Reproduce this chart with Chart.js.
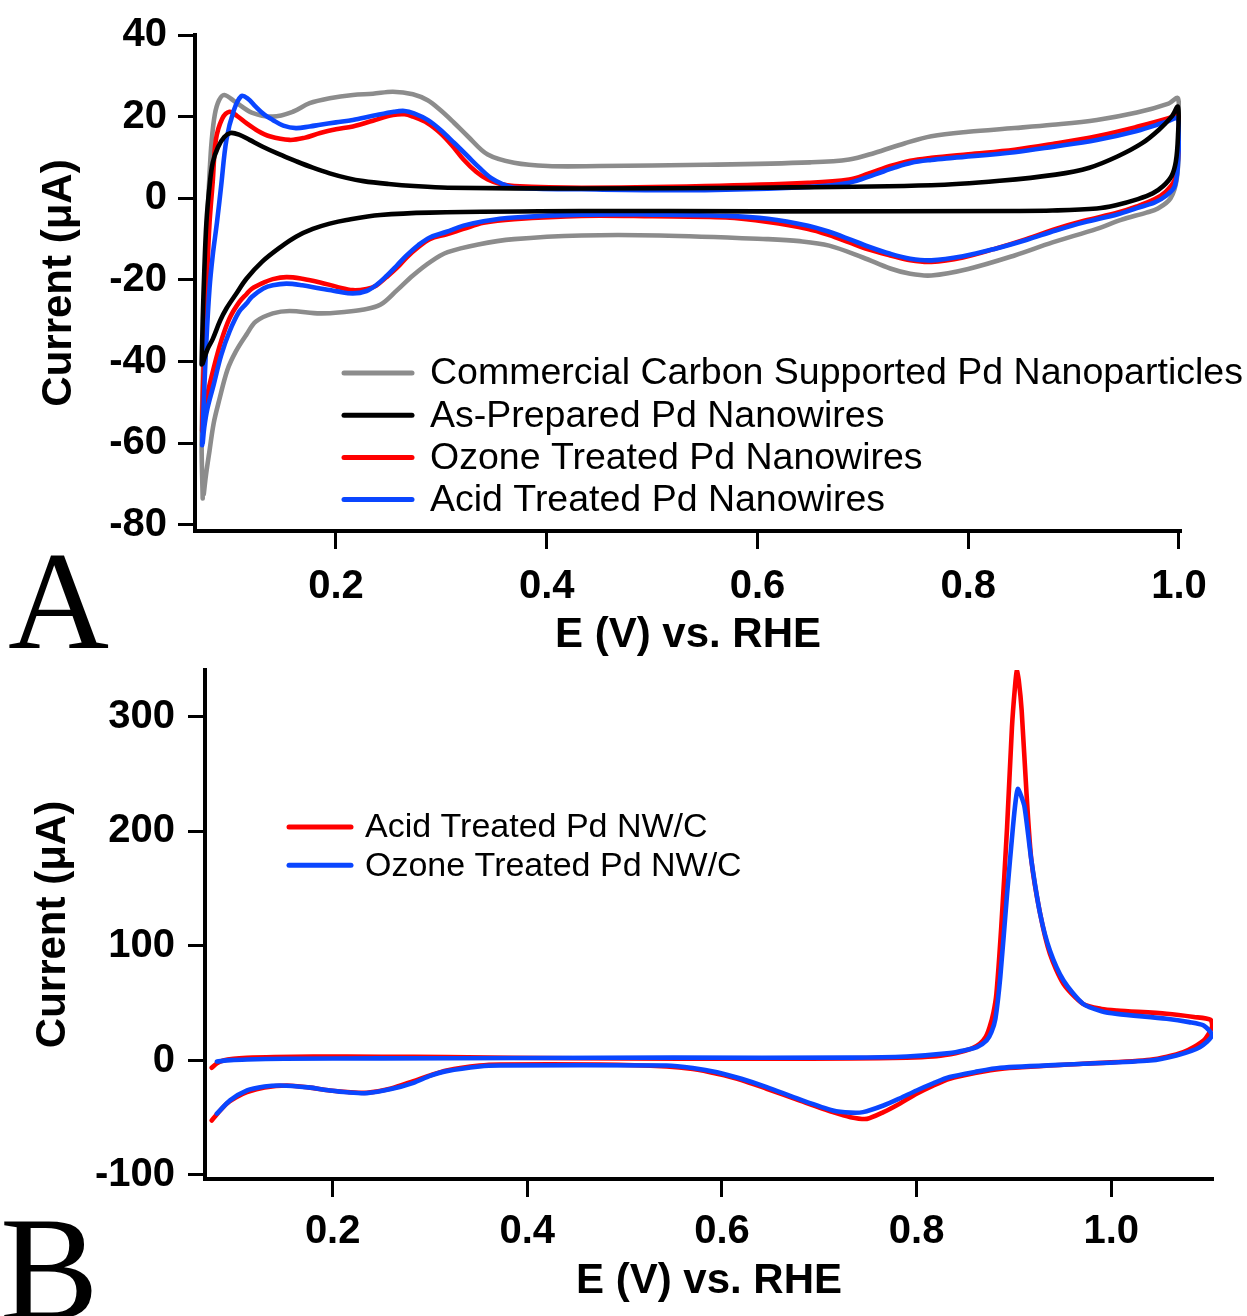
<!DOCTYPE html>
<html>
<head>
<meta charset="utf-8">
<script src="https://cdn.jsdelivr.net/npm/chart.js@4.4.1/dist/chart.umd.min.js"></script>
<style>
  html, body { margin: 0; padding: 0; background: #fff; }
  #page { position: relative; width: 1247px; height: 1316px; overflow: hidden; background: #fff; }
  canvas { position: absolute; left: 0; }
  #chartA { top: 0; }
  #chartB { top: 620px; }
  .panel { position: absolute; font-family: "Liberation Serif", "DejaVu Serif", serif; font-size: 140px; line-height: 1; color: #000; }
</style>
</head>
<body>
<div id="page">
  <canvas id="chartA" width="1247" height="665"></canvas>
  <canvas id="chartB" width="1247" height="696"></canvas>
  <div class="panel" style="left:8px; top:531px;">A</div>
  <div class="panel" style="left:0px; top:1195px; font-size:148px;">B</div>
</div>
<script>
// ---- panel A : CV curves (E in V vs RHE, I in uA) ----
const seriesA = [
  "Commercial Carbon Supported Pd Nanoparticles",
  "As-Prepared Pd Nanowires",
  "Ozone Treated Pd Nanowires",
  "Acid Treated Pd Nanowires"
];

const commercialE = [0.0735, 0.0725, 0.074, 0.076, 0.078, 0.080, 0.082, 0.085, 0.089, 0.094, 0.105, 0.120, 0.140, 0.159, 0.175, 0.194, 0.216, 0.235, 0.254, 0.273, 0.287, 0.299, 0.312, 0.325, 0.344, 0.369, 0.401, 0.450, 0.550, 0.650, 0.687, 0.711, 0.740, 0.765, 0.800, 0.844, 0.880, 0.922, 0.960, 0.990, 0.999,
  1.000, 0.998, 0.992, 0.980, 0.969, 0.945, 0.922, 0.880, 0.844, 0.800, 0.765, 0.745, 0.726, 0.700, 0.668, 0.640, 0.609, 0.507, 0.433, 0.369, 0.335, 0.306, 0.290, 0.273, 0.258, 0.242, 0.225, 0.210, 0.185, 0.156, 0.140, 0.124, 0.115, 0.105, 0.097, 0.089, 0.084, 0.080, 0.0765, 0.0745];
const commercialI = [-73.5, -60, -40, -20, -5, 6, 14, 20.5, 24, 25.3, 23.5, 21, 20.0, 21.2, 23.3, 24.5, 25.3, 25.6, 26.1, 25.5, 24, 21.6, 18.5, 15.2, 10.7, 8.7, 7.9, 7.9, 8.2, 8.8, 9.5, 11.1, 13.5, 15.2, 16.3, 17.2, 18, 19.2, 21, 23.2, 24.5,
  15, 5, 0, -2.5, -3.5, -5.3, -7.5, -10.8, -14.0, -17.3, -18.9, -18.5, -17.2, -14.5, -11.6, -10.5, -10.0, -9.1, -9.1, -10.0, -11.3, -13.2, -15.5, -18.9, -22.5, -26.1, -27.3, -27.8, -28.2, -27.6, -28.2, -30.2, -33.4, -37.5, -42, -49.6, -55, -61.8, -68, -72.5];

const asPreparedE = [0.0725, 0.0735, 0.075, 0.077, 0.080, 0.083, 0.088, 0.094, 0.100, 0.108, 0.118, 0.130, 0.146, 0.162, 0.178, 0.194, 0.210, 0.226, 0.250, 0.274, 0.306, 0.433, 0.600, 0.765, 0.830, 0.883, 0.915, 0.942, 0.965, 0.981, 0.993, 0.999,
  0.999, 0.997, 0.993, 0.985, 0.975, 0.961, 0.940, 0.922, 0.880, 0.844, 0.600, 0.433, 0.289, 0.242, 0.210, 0.194, 0.178, 0.162, 0.147, 0.130, 0.115, 0.105, 0.096, 0.090, 0.083, 0.078, 0.0735];
const asPreparedI = [-40.7, -30, -18, -6, 3, 8.7, 12.5, 15, 16.0, 15.6, 14.3, 12.7, 10.8, 9.1, 7.5, 6.1, 5.0, 4.2, 3.5, 3.0, 2.6, 2.4, 2.6, 3.2, 4.3, 5.8, 7.5, 10.3, 13.5, 16.8, 20, 22.4,
  15, 9, 5.5, 3, 1.2, -0.2, -1.7, -2.5, -3.0, -3.1, -3.2, -3.1, -3.5, -4.1, -5.3, -6.2, -7.5, -9.4, -12, -15.5, -19.7, -23.5, -27, -30, -34.5, -37, -40.5];

const ozoneE = [0.073, 0.074, 0.076, 0.078, 0.080, 0.083, 0.086, 0.092, 0.099, 0.106, 0.115, 0.126, 0.137, 0.156, 0.170, 0.185, 0.200, 0.216, 0.235, 0.254, 0.265, 0.273, 0.287, 0.299, 0.310, 0.321, 0.333, 0.344, 0.356, 0.369, 0.433, 0.550, 0.648, 0.687, 0.705, 0.726, 0.745, 0.765, 0.800, 0.844, 0.880, 0.922, 0.960, 0.990, 0.999,
  0.9995, 0.996, 0.987, 0.977, 0.960, 0.942, 0.910, 0.883, 0.855, 0.825, 0.795, 0.765, 0.745, 0.726, 0.705, 0.687, 0.668, 0.648, 0.610, 0.570, 0.500, 0.433, 0.369, 0.340, 0.321, 0.305, 0.289, 0.278, 0.267, 0.258, 0.248, 0.238, 0.229, 0.216, 0.201, 0.185, 0.168, 0.153, 0.140, 0.131, 0.120, 0.115, 0.108, 0.099, 0.091, 0.084, 0.078, 0.075, 0.0735];
const ozoneI = [-57, -45, -30, -17, -6, 4, 14.3, 19.5, 21.2, 20.2, 18.4, 16.5, 15.2, 14.3, 14.8, 16.0, 16.9, 17.6, 19, 20.4, 20.6, 20.0, 18.4, 16.0, 13, 9.5, 6.5, 4.6, 3.5, 3.0, 2.6, 3.0, 3.8, 4.6, 6, 7.9, 9.2, 9.9, 10.8, 11.9, 13.3, 15.2, 17.5, 19.6, 20.5,
  12, 4.6, 1.5, -0.2, -2.0, -3.5, -5.5, -7.5, -10, -12.4, -14.5, -15.6, -15.2, -14.0, -12.5, -10.8, -9, -7.5, -5.8, -4.7, -4.4, -4.3, -5.1, -6, -7.5, -8.8, -10, -12, -14.5, -17, -19.3, -21.4, -22.2, -22.5, -21.7, -20.6, -19.7, -19.3, -19.8, -20.7, -22.2, -23.5, -25.5, -29.4, -35, -41.5, -48, -52.8, -56.5];

const acidE = [0.073, 0.0745, 0.077, 0.080, 0.083, 0.087, 0.091, 0.096, 0.103, 0.110, 0.116, 0.124, 0.132, 0.140, 0.150, 0.162, 0.175, 0.185, 0.200, 0.216, 0.235, 0.255, 0.265, 0.274, 0.287, 0.299, 0.312, 0.325, 0.336, 0.347, 0.358, 0.369, 0.433, 0.550, 0.650, 0.687, 0.711, 0.730, 0.746, 0.765, 0.785, 0.844, 0.880, 0.922, 0.960, 0.989, 0.999,
  0.9995, 0.996, 0.987, 0.977, 0.960, 0.942, 0.910, 0.883, 0.855, 0.825, 0.795, 0.765, 0.745, 0.726, 0.705, 0.687, 0.668, 0.648, 0.610, 0.570, 0.500, 0.433, 0.369, 0.340, 0.321, 0.305, 0.289, 0.278, 0.267, 0.258, 0.248, 0.238, 0.229, 0.216, 0.201, 0.185, 0.168, 0.153, 0.140, 0.131, 0.120, 0.115, 0.108, 0.099, 0.091, 0.084, 0.078, 0.075, 0.0735];
const acidI = [-60.5, -50, -35, -22, -14, -6, 3, 14.3, 21.5, 25.0, 24.5, 22.4, 20.5, 19.2, 17.8, 17.2, 17.6, 18.0, 18.6, 19.2, 20.2, 21.2, 21.4, 20.8, 19.2, 16.8, 13.6, 10.3, 7.5, 5.0, 3.5, 2.6, 2.2, 2.0, 2.8, 3.8, 5.8, 7.5, 8.7, 9.4, 9.9, 11.3, 12.6, 14.3, 16.5, 18.8, 19.5,
  11, 3.0, 0.5, -1.0, -2.4, -3.9, -5.9, -7.9, -10.2, -12.4, -14.2, -15.2, -14.8, -13.6, -11.8, -10.0, -8.2, -6.7, -5.0, -4.3, -4.0, -4.0, -4.7, -5.6, -6.7, -8.2, -9.6, -11.5, -14, -16.4, -19, -21.3, -22.7, -23.3, -22.8, -22.1, -21.3, -20.9, -21.3, -22.1, -24.2, -25.8, -27.8, -32.6, -38.5, -45.6, -51.5, -56.1, -60];

// ---- panel B ----
const seriesB = ["Acid Treated Pd NW/C", "Ozone Treated Pd NW/C"];

const acidNwE = [0.0757, 0.081, 0.0876, 0.098, 0.1116, 0.140, 0.180, 0.250, 0.317, 0.450, 0.557, 0.650, 0.732, 0.790, 0.817, 0.835, 0.845, 0.857, 0.865, 0.871, 0.875, 0.879, 0.882, 0.887, 0.893, 0.898, 0.901, 0.903, 0.905, 0.908, 0.913, 0.918, 0.927, 0.937, 0.951, 0.971, 0.990, 1.006, 1.057, 1.085, 1.102,
  1.1035, 1.095, 1.074, 1.040, 0.971, 0.886, 0.860, 0.834, 0.817, 0.800, 0.783, 0.766, 0.749, 0.732, 0.714, 0.680, 0.646, 0.620, 0.595, 0.570, 0.543, 0.475, 0.372, 0.351, 0.317, 0.300, 0.283, 0.260, 0.235, 0.215, 0.197, 0.175, 0.153, 0.130, 0.112, 0.100, 0.091, 0.083, 0.0757];
const acidNwI = [-6.4, -2.5, 0, 1.5, 2.3, 3.0, 3.5, 3.3, 2.9, 2.0, 1.5, 1.5, 1.8, 2.5, 3.5, 5.5, 7.3, 10.5, 14.5, 20.5, 29, 42, 58.2, 116.3, 203.6, 290.9, 325, 340.4, 332, 305.5, 232.8, 174.6, 128, 93.1, 66.9, 49.5, 45, 43.6, 40.8, 38, 35.5,
  29.1, 17.5, 7.3, 0.6, -2.9, -7.3, -11, -16, -22, -29.1, -37.5, -45.1, -51, -49.5, -45.1, -35, -24.7, -17, -11.6, -7.5, -5.2, -3.5, -3.5, -4.4, -8.7, -13, -18, -24.5, -28.2, -27.5, -26.2, -23.5, -21.8, -23.5, -27.7, -32.5, -37.8, -45, -52.4];

const ozoneNwE = [0.081, 0.095, 0.112, 0.150, 0.250, 0.400, 0.550, 0.732, 0.790, 0.834, 0.850, 0.862, 0.872, 0.877, 0.881, 0.886, 0.893, 0.899, 0.902, 0.904, 0.907, 0.911, 0.918, 0.927, 0.937, 0.951, 0.971, 0.990, 1.006, 1.057, 1.080, 1.095, 1.1035,
  1.091, 1.067, 1.040, 0.971, 0.886, 0.860, 0.834, 0.817, 0.800, 0.783, 0.766, 0.745, 0.732, 0.714, 0.680, 0.646, 0.620, 0.595, 0.570, 0.543, 0.372, 0.351, 0.317, 0.300, 0.283, 0.260, 0.235, 0.215, 0.197, 0.175, 0.146, 0.130, 0.112, 0.0945, 0.081];
const ozoneNwI = [-0.9, 0.3, 0.9, 1.5, 1.8, 2.2, 2.5, 2.5, 3.5, 6.4, 9, 11.6, 17.5, 25, 36.4, 72.7, 145.5, 203.6, 228, 237.1, 232, 221.1, 174.6, 128, 96, 69.8, 49.5, 43, 40.7, 36.4, 33.5, 30.5, 21.8,
  11.6, 4.4, 0, -2.9, -6.4, -10, -14.5, -20, -26.2, -33, -39.3, -45.1, -45.5, -43.6, -34, -23.3, -16, -10.2, -6.5, -4.4, -4.4, -5.2, -9.3, -13.5, -19.5, -25, -28.5, -27.8, -26.2, -23.5, -21.8, -22.8, -26.2, -34.9, -46.5];

// tick labels
const eTicks = [0.2, 0.4, 0.6, 0.8, 1.0];
const iTicksA = [-80, -60, -40, -20, 0, 20, 40];
const iTicksB = [-100, 0, 100, 200, 300];

Chart.defaults.font.family = '"Liberation Sans", Arial, sans-serif';
Chart.defaults.color = "#000";

const toPoints = (xs, ys) => xs.map((x, i) => ({ x: x, y: ys[i] }));

// legend drawn inside the plot area
const insetLegend = {
  id: "insetLegend",
  afterDraw(chart, args, opts) {
    const ctx = chart.ctx;
    ctx.save();
    ctx.font = opts.fontSize + 'px "Liberation Sans", Arial, sans-serif';
    ctx.textBaseline = "middle";
    ctx.textAlign = "left";
    ctx.lineCap = "round";
    ctx.lineWidth = opts.lineWidth;
    chart.data.datasets.forEach((ds, i) => {
      const y = opts.y + i * opts.rowHeight;
      ctx.strokeStyle = ds.borderColor;
      ctx.beginPath();
      ctx.moveTo(opts.x, y);
      ctx.lineTo(opts.x + opts.lineLength, y);
      ctx.stroke();
      ctx.fillStyle = "#000";
      ctx.fillText(ds.label, opts.textX, y + 1);
    });
    ctx.restore();
  }
};

const axisGrid = (len) => ({
  display: true,
  drawOnChartArea: false,
  drawTicks: true,
  tickLength: len,
  tickWidth: 3,
  tickColor: "#000"
});

new Chart(document.getElementById("chartA"), {
  type: "line",
  data: {
    datasets: [
      { label: seriesA[0], data: toPoints(commercialE, commercialI), borderColor: "#8c8c8c", order: 4 },
      { label: seriesA[1], data: toPoints(asPreparedE, asPreparedI), borderColor: "#000000", order: 1 },
      { label: seriesA[2], data: toPoints(ozoneE, ozoneI), borderColor: "#ff0000", order: 3 },
      { label: seriesA[3], data: toPoints(acidE, acidI), borderColor: "#0a46ff", order: 2 }
    ]
  },
  options: {
    responsive: false,
    animation: false,
    layout: { padding: { left: 0, top: 31, right: 66, bottom: 0 } },
    elements: {
      point: { radius: 0 },
      line: { borderWidth: 4.6, tension: 0.35, borderJoinStyle: "round", borderCapStyle: "round" }
    },
    plugins: {
      legend: { display: false },
      tooltip: { enabled: false },
      insetLegend: { x: 344, y: 373, rowHeight: 42.2, lineLength: 68, lineWidth: 5, textX: 430, fontSize: 37.5 }
    },
    scales: {
      x: {
        type: "linear",
        min: 0.0662,
        max: 1.0019,
        afterBuildTicks: (s) => { s.ticks = eTicks.map(v => ({ value: v })); },
        afterFit: (s) => { s.height = 134; },
        ticks: { callback: (v) => v.toFixed(1), font: { size: 40, weight: "bold" }, padding: 14 },
        grid: axisGrid(18),
        border: { display: true, width: 4, color: "#000" },
        title: { display: true, text: "E (V) vs. RHE", font: { size: 42, weight: "bold" }, padding: { top: 0, bottom: 4 } }
      },
      y: {
        type: "linear",
        min: -81.5,
        max: 40,
        afterBuildTicks: (s) => { s.ticks = iTicksA.map(v => ({ value: v })); },
        afterFit: (s) => { s.width = 195; },
        ticks: { callback: (v) => String(v), font: { size: 40, weight: "bold" }, padding: 11 },
        grid: axisGrid(17),
        border: { display: true, width: 4, color: "#000" },
        title: { display: true, text: "Current (\u03bcA)", font: { size: 42, weight: "bold" }, padding: { top: 34, bottom: 0 } }
      }
    }
  },
  plugins: [insetLegend]
});

new Chart(document.getElementById("chartB"), {
  type: "line",
  data: {
    datasets: [
      { label: seriesB[0], data: toPoints(acidNwE, acidNwI), borderColor: "#ff0000", order: 2 },
      { label: seriesB[1], data: toPoints(ozoneNwE, ozoneNwI), borderColor: "#0a46ff", order: 1 }
    ]
  },
  options: {
    responsive: false,
    animation: false,
    layout: { padding: { left: 0, top: 50, right: 34, bottom: 0 } },
    elements: {
      point: { radius: 0 },
      line: { borderWidth: 4.6, tension: 0.25, borderJoinStyle: "round", borderCapStyle: "round" }
    },
    plugins: {
      legend: { display: false },
      tooltip: { enabled: false },
      insetLegend: { x: 289, y: 207, rowHeight: 38.3, lineLength: 62, lineWidth: 5, textX: 365, fontSize: 34 }
    },
    scales: {
      x: {
        type: "linear",
        min: 0.0688,
        max: 1.1046,
        afterBuildTicks: (s) => { s.ticks = eTicks.map(v => ({ value: v })); },
        afterFit: (s) => { s.height = 137; },
        ticks: { callback: (v) => v.toFixed(1), font: { size: 40, weight: "bold" }, padding: 11 },
        grid: axisGrid(18),
        border: { display: true, width: 4, color: "#000" },
        title: { display: true, text: "E (V) vs. RHE", font: { size: 42, weight: "bold" }, padding: { top: 0, bottom: 9 } }
      },
      y: {
        type: "linear",
        min: -103.5,
        max: 341,
        afterBuildTicks: (s) => { s.ticks = iTicksB.map(v => ({ value: v })); },
        afterFit: (s) => { s.width = 205; },
        ticks: { callback: (v) => String(v), font: { size: 40, weight: "bold" }, padding: 13 },
        grid: axisGrid(17),
        border: { display: true, width: 4, color: "#000" },
        title: { display: true, text: "Current (\u03bcA)", font: { size: 42, weight: "bold" }, padding: { top: 28, bottom: 0 } }
      }
    }
  },
  plugins: [insetLegend]
});
</script>
</body>
</html>
